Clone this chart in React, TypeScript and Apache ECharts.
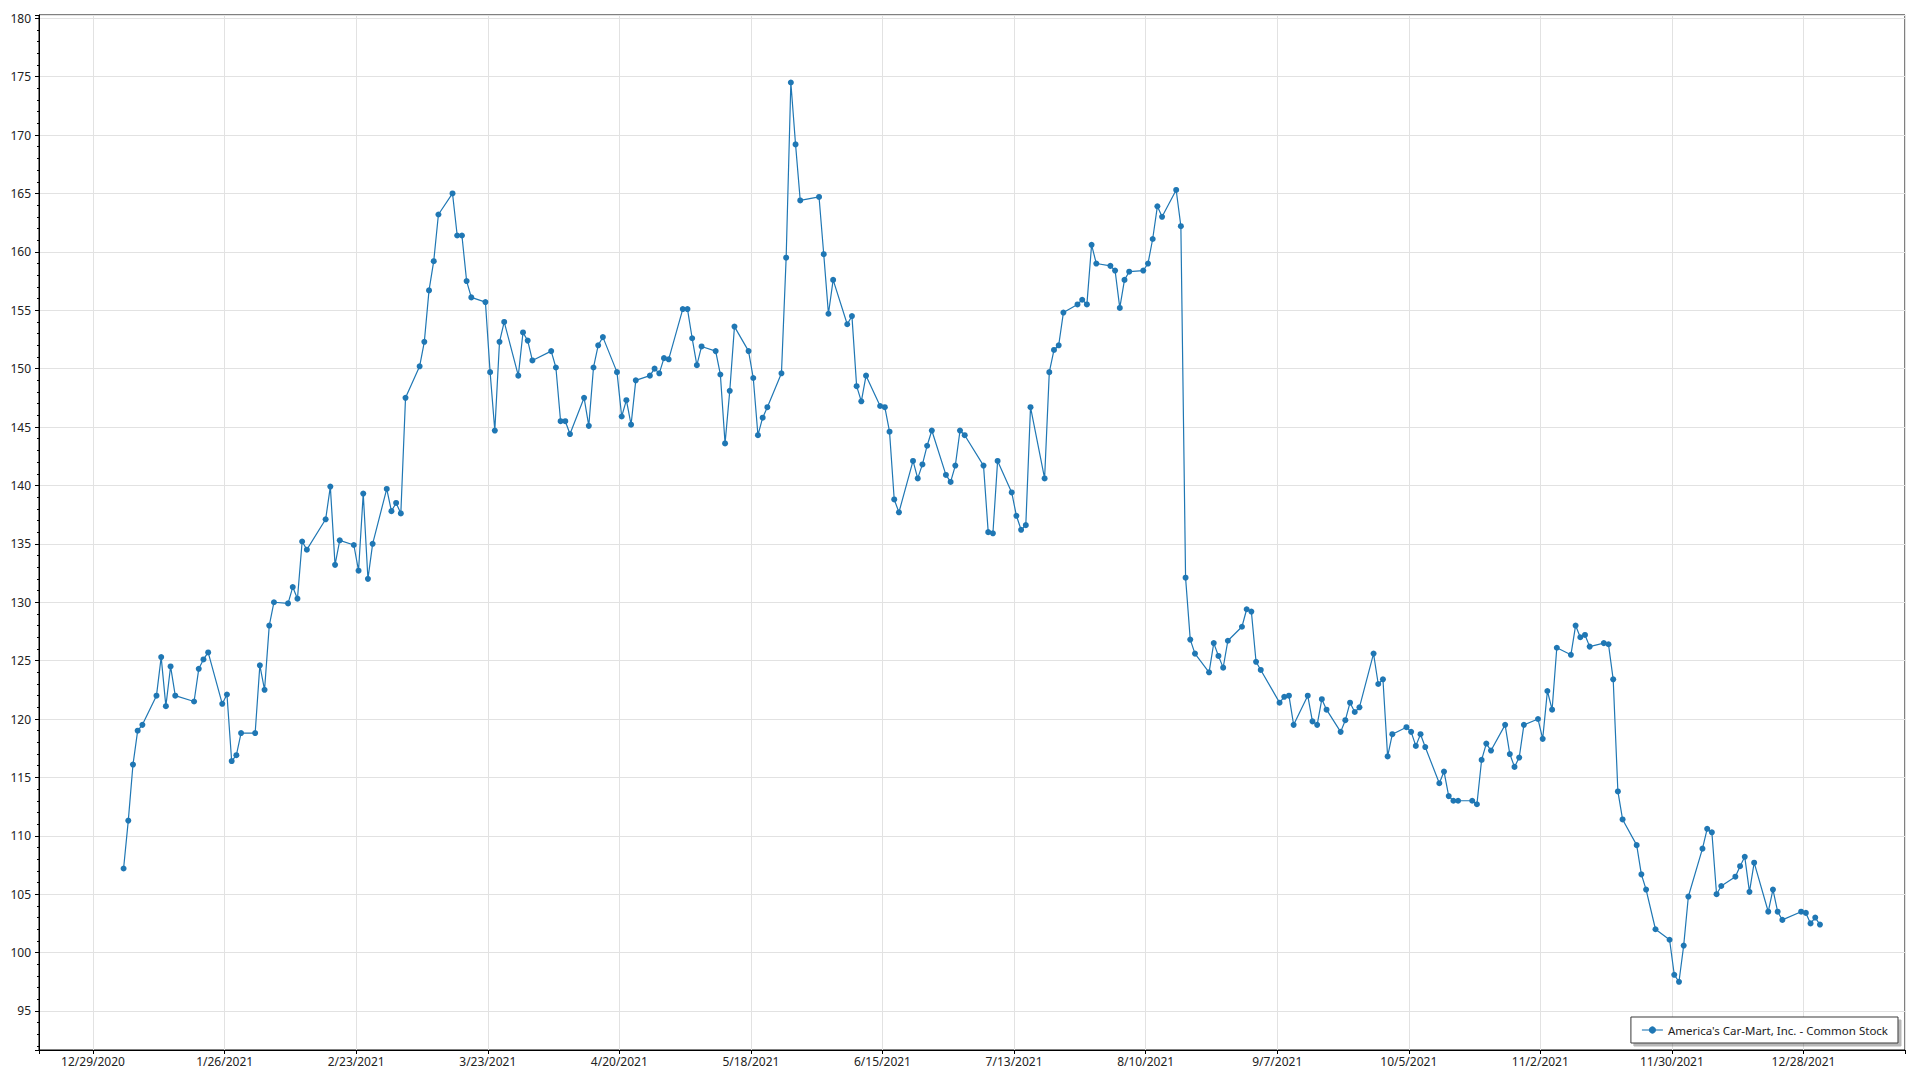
import React, { useEffect, useRef } from "react";
import * as echarts from "echarts";

const SERIES_NAME = "America's Car-Mart, Inc. - Common Stock";
const YEAR = 2021;
// Reference date of the first x tick (12/29/2020); x values are days since it.
const TICK_ORIGIN_UTC = Date.UTC(2020, 11, 29);
const TICK_STEP_DAYS = 28;
const Y_STEP = 5;
const X_MIN = -11.5;
const X_MAX = 385.6;
const Y_MIN = 91.66;
const Y_MAX = 180.28;
const POINT_HOUR = 12; // quotes stamped at midday

// Trading days of 2021, month by month
const DAYS_JAN = [4, 5, 6, 7, 8, 11, 12, 13, 14, 15, 19, 20, 21, 22, 25, 26, 27, 28, 29];
const DAYS_FEB = [1, 2, 3, 4, 5, 8, 9, 10, 11, 12, 16, 17, 18, 19, 22, 23, 24, 25, 26];
const DAYS_MAR = [1, 2, 3, 4, 5, 8, 9, 10, 11, 12, 15, 16, 17, 18, 19, 22, 23, 24, 25, 26, 29, 30, 31];
const DAYS_APR = [1, 5, 6, 7, 8, 9, 12, 13, 14, 15, 16, 19, 20, 21, 22, 23, 26, 27, 28, 29, 30];
const DAYS_MAY = [3, 4, 5, 6, 7, 10, 11, 12, 13, 14, 17, 18, 19, 20, 21, 24, 25, 26, 27, 28];
const DAYS_JUN = [1, 2, 3, 4, 7, 8, 9, 10, 11, 14, 15, 16, 17, 18, 21, 22, 23, 24, 25, 28, 29, 30];
const DAYS_JUL = [1, 2, 6, 7, 8, 9, 12, 13, 14, 15, 16, 19, 20, 21, 22, 23, 26, 27, 28, 29, 30];
const DAYS_AUG = [2, 3, 4, 5, 6, 9, 10, 11, 12, 13, 16, 17, 18, 19, 20, 23, 24, 25, 26, 27, 30, 31];
const DAYS_SEP = [1, 2, 3, 7, 8, 9, 10, 13, 14, 15, 16, 17, 20, 21, 22, 23, 24, 27, 28, 29, 30];
const DAYS_OCT = [1, 4, 5, 6, 7, 8, 11, 12, 13, 14, 15, 18, 19, 20, 21, 22, 25, 26, 27, 28, 29];
const DAYS_NOV = [1, 2, 3, 4, 5, 8, 9, 10, 11, 12, 15, 16, 17, 18, 19, 22, 23, 24, 26, 29, 30];
const DAYS_DEC = [1, 2, 3, 6, 7, 8, 9, 10, 13, 14, 15, 16, 17, 20, 21, 22, 23, 27, 28, 29, 30, 31];

// Closing prices
const PRICES_JAN = [107.2, 111.3, 116.1, 119.0, 119.5, 122.0, 125.3, 121.1, 124.5, 122.0, 121.5, 124.3, 125.1, 125.7, 121.3, 122.1, 116.4, 116.9, 118.8];
const PRICES_FEB = [118.8, 124.6, 122.5, 128.0, 130.0, 129.9, 131.3, 130.3, 135.2, 134.5, 137.1, 139.9, 133.2, 135.3, 134.9, 132.7, 139.3, 132.0, 135.0];
const PRICES_MAR = [139.7, 137.8, 138.5, 137.6, 147.5, 150.2, 152.3, 156.7, 159.2, 163.2, 165.0, 161.4, 161.4, 157.5, 156.1, 155.7, 149.7, 144.7, 152.3, 154.0, 149.4, 153.1, 152.4];
const PRICES_APR = [150.7, 151.5, 150.1, 145.5, 145.5, 144.4, 147.5, 145.1, 150.1, 152.0, 152.7, 149.7, 145.9, 147.3, 145.2, 149.0, 149.4, 150.0, 149.6, 150.9, 150.8];
const PRICES_MAY = [155.1, 155.1, 152.6, 150.3, 151.9, 151.5, 149.5, 143.6, 148.1, 153.6, 151.5, 149.2, 144.3, 145.8, 146.7, 149.6, 159.5, 174.5, 169.2, 164.4];
const PRICES_JUN = [164.7, 159.8, 154.7, 157.6, 153.8, 154.5, 148.5, 147.2, 149.4, 146.8, 146.7, 144.6, 138.8, 137.7, 142.1, 140.6, 141.8, 143.4, 144.7, 140.9, 140.3, 141.7];
const PRICES_JUL = [144.7, 144.3, 141.7, 136.0, 135.9, 142.1, 139.4, 137.4, 136.2, 136.6, 146.7, 140.6, 149.7, 151.6, 152.0, 154.8, 155.5, 155.9, 155.5, 160.6, 159.0];
const PRICES_AUG = [158.8, 158.4, 155.2, 157.6, 158.3, 158.4, 159.0, 161.1, 163.9, 163.0, 165.3, 162.2, 132.1, 126.8, 125.6, 124.0, 126.5, 125.4, 124.4, 126.7, 127.9, 129.4];
const PRICES_SEP = [129.2, 124.9, 124.2, 121.4, 121.9, 122.0, 119.5, 122.0, 119.8, 119.5, 121.7, 120.8, 118.9, 119.9, 121.4, 120.6, 121.0, 125.6, 123.0, 123.4, 116.8];
const PRICES_OCT = [118.7, 119.3, 118.9, 117.7, 118.7, 117.6, 114.5, 115.5, 113.4, 113.0, 113.0, 113.0, 112.7, 116.5, 117.9, 117.3, 119.5, 117.0, 115.9, 116.7, 119.5];
const PRICES_NOV = [120.0, 118.3, 122.4, 120.8, 126.1, 125.5, 128.0, 127.0, 127.2, 126.2, 126.5, 126.4, 123.4, 113.8, 111.4, 109.2, 106.7, 105.4, 102.0, 101.1, 98.1];
const PRICES_DEC = [97.5, 100.6, 104.8, 108.9, 110.6, 110.3, 105.0, 105.7, 106.5, 107.4, 108.2, 105.2, 107.7, 103.5, 105.4, 103.5, 102.8, 103.5, 103.4, 102.5, 103.0, 102.4];

const MONTH_DAYS = [DAYS_JAN, DAYS_FEB, DAYS_MAR, DAYS_APR, DAYS_MAY, DAYS_JUN, DAYS_JUL, DAYS_AUG, DAYS_SEP, DAYS_OCT, DAYS_NOV, DAYS_DEC];
const MONTH_PRICES = [PRICES_JAN, PRICES_FEB, PRICES_MAR, PRICES_APR, PRICES_MAY, PRICES_JUN, PRICES_JUL, PRICES_AUG, PRICES_SEP, PRICES_OCT, PRICES_NOV, PRICES_DEC];

const DAY_MS = 86400000;
const FONT = "'Noto Sans', sans-serif";

function buildPoints(): [number, number][] {
  const pts: [number, number][] = [];
  MONTH_DAYS.forEach((days, m) => {
    days.forEach((d, i) => {
      const x = (Date.UTC(YEAR, m, d, POINT_HOUR) - TICK_ORIGIN_UTC) / DAY_MS;
      pts.push([x, MONTH_PRICES[m][i]]);
    });
  });
  return pts;
}

function isMultiple(v: number, step: number) {
  const r = v / step;
  return Math.abs(r - Math.round(r)) < 1e-6;
}

function fmtDate(v: number) {
  if (!isMultiple(v, TICK_STEP_DAYS)) return "";
  const dt = new Date(TICK_ORIGIN_UTC + Math.round(v) * DAY_MS);
  return `${dt.getUTCMonth() + 1}/${dt.getUTCDate()}/${dt.getUTCFullYear()}`;
}

export default function App() {
  const ref = useRef<HTMLDivElement>(null);

  useEffect(() => {
    if (!ref.current) return;
    const chart = echarts.init(ref.current, undefined, { renderer: "svg" });
    const points = buildPoints();
    chart.setOption({
      animation: false,
      backgroundColor: "#ffffff",
      grid: {
        left: 39,
        right: 15,
        top: 15,
        bottom: 30,
        show: true,
        borderColor: "#000",
        borderWidth: 1,
        backgroundColor: "transparent",
        containLabel: false,
      },
      xAxis: {
        type: "value",
        min: X_MIN,
        max: X_MAX,
        splitNumber: 14,
        minInterval: TICK_STEP_DAYS,
        maxInterval: TICK_STEP_DAYS,
        axisLine: { show: true, onZero: false, lineStyle: { color: "#000", width: 1 } },
        axisTick: { show: true, length: 4, lineStyle: { color: "#000", width: 1 } },
        axisLabel: {
          formatter: (v: number) => fmtDate(v),
          color: "#222",
          fontSize: 12,
          fontFamily: FONT,
          margin: 5,
        },
        splitLine: { show: true, lineStyle: { color: "#e2e2e2", width: 1 } },
      },
      yAxis: {
        type: "value",
        min: Y_MIN,
        max: Y_MAX,
        splitNumber: 18,
        minInterval: Y_STEP,
        maxInterval: Y_STEP,
        axisLine: { show: true, onZero: false, lineStyle: { color: "#000", width: 1 } },
        axisTick: { show: true, length: 4, lineStyle: { color: "#000", width: 1 } },
        minorTick: { show: true, splitNumber: 5, length: 2, lineStyle: { color: "#000", width: 1 } },
        axisLabel: {
          formatter: (v: number) => (isMultiple(v, Y_STEP) ? String(Math.round(v)) : ""),
          color: "#222",
          fontSize: 12,
          fontFamily: FONT,
          margin: 8,
        },
        splitLine: { show: true, lineStyle: { color: "#e2e2e2", width: 1 } },
      },
      legend: {
        show: true,
        right: 22,
        bottom: 37,
        backgroundColor: "#ffffff",
        borderColor: "#3a3a3a",
        borderWidth: 1,
        borderRadius: 0,
        padding: [6, 10],
        itemWidth: 21,
        itemHeight: 9,
        itemGap: 5,
        shadowColor: "rgba(0,0,0,0.28)",
        shadowBlur: 0,
        shadowOffsetX: 3,
        shadowOffsetY: 3,
        textStyle: { fontSize: 11.5, lineHeight: 14, color: "#222", fontFamily: FONT },
        data: [
          {
            name: SERIES_NAME,
            lineStyle: { color: "rgba(31,119,180,0.55)", width: 2 },
            itemStyle: { color: "#1f77b4" },
          },
        ],
      },
      series: [
        {
          type: "line",
          name: SERIES_NAME,
          data: points,
          symbol: "circle",
          symbolSize: 6,
          showSymbol: true,
          showAllSymbol: true,
          itemStyle: { color: "#1f77b4" },
          lineStyle: { color: "#1f77b4", width: 1.2 },
          emphasis: { disabled: true },
        },
      ],
    });
    return () => chart.dispose();
  }, []);

  return (
    <div
      ref={ref}
      style={{ position: "fixed", left: 0, top: 0, width: 1920, height: 1080, background: "#fff" }}
    />
  );
}
